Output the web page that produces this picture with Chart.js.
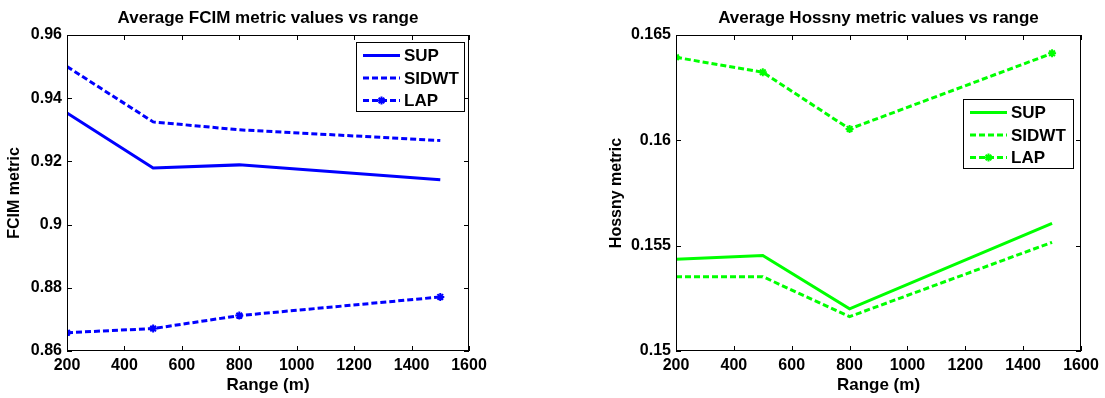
<!DOCTYPE html>
<html><head><meta charset="utf-8">
<script src="https://cdn.jsdelivr.net/npm/chart.js@4.4.1/dist/chart.umd.min.js"></script>
<style>
body{margin:0;background:#fff;width:1105px;height:398px;overflow:hidden;position:relative}
.w{position:absolute;top:0;height:398px}
</style>
</head><body>
<div class="w" style="left:0;width:552px"><canvas id="c1"></canvas></div>
<div class="w" style="left:552px;width:553px"><canvas id="c2"></canvas></div>
<script>
// ---- data ----
const ranges = [200, 500, 800, 1500];
const xTicks = [200, 400, 600, 800, 1000, 1200, 1400, 1600];
const seriesNames = ['SUP', 'SIDWT', 'LAP'];

const fcimSUP   = [0.9353, 0.9179, 0.9189, 0.9142];
const fcimSIDWT = [0.9500, 0.9325, 0.9300, 0.9266];
const fcimLAP   = [0.8658, 0.8671, 0.8712, 0.8771];
const fcimTicks = [0.86, 0.88, 0.9, 0.92, 0.94, 0.96];

const hossnySUP   = [0.15435, 0.15453, 0.15200, 0.15606];
const hossnySIDWT = [0.15353, 0.15353, 0.15163, 0.15516];
const hossnyLAP   = [0.16394, 0.16323, 0.16054, 0.16413];
const hossnyTicks = [0.15, 0.155, 0.16, 0.165];

const FONT = '"Liberation Sans", Arial, Helvetica, sans-serif';
Chart.defaults.font.family = FONT;
Chart.defaults.font.weight = 'bold';
Chart.defaults.color = '#000';

function drawStar(ctx, x, y, r, color) {
  ctx.save();
  ctx.strokeStyle = color; ctx.lineWidth = 2; ctx.setLineDash([]);
  ctx.beginPath();
  for (let i = 0; i < 4; i++) {
    const a = i * Math.PI / 4;
    ctx.moveTo(x - r * Math.cos(a), y - r * Math.sin(a));
    ctx.lineTo(x + r * Math.cos(a), y + r * Math.sin(a));
  }
  ctx.stroke();
  ctx.restore();
}

const framePlugin = {
  id: 'frameLegend',
  afterDraw(chart, args, opts) {
    const ctx = chart.ctx, a = chart.chartArea;
    ctx.save();
    // title
    ctx.fillStyle = '#000';
    ctx.font = 'bold 17px ' + FONT;
    ctx.textAlign = 'center'; ctx.textBaseline = 'middle';
    ctx.fillText(opts.title, (a.left + a.right) / 2, 18);
    // frame
    ctx.strokeStyle = '#000'; ctx.lineWidth = 1; ctx.setLineDash([]);
    ctx.strokeRect(Math.round(a.left) + 0.5, Math.round(a.top) + 0.5,
                   Math.round(a.right - a.left) - 1, Math.round(a.bottom - a.top) - 1);
    const L = 5;
    ctx.beginPath();
    const xs = chart.scales.x, ys = chart.scales.y;
    xs.ticks.forEach(t => {
      const p = Math.round(xs.getPixelForValue(t.value)) + 0.5;
      ctx.moveTo(p, a.bottom); ctx.lineTo(p, a.bottom - L);
      ctx.moveTo(p, a.top); ctx.lineTo(p, a.top + L);
    });
    ys.ticks.forEach(t => {
      const p = Math.round(ys.getPixelForValue(t.value)) + 0.5;
      ctx.moveTo(a.left, p); ctx.lineTo(a.left + L, p);
      ctx.moveTo(a.right, p); ctx.lineTo(a.right - L, p);
    });
    ctx.stroke();
    // legend
    const b = opts.box;
    ctx.fillStyle = '#fff';
    ctx.fillRect(b.x, b.y, b.w, b.h);
    ctx.strokeStyle = '#000'; ctx.lineWidth = 1;
    ctx.strokeRect(b.x + 0.5, b.y + 0.5, b.w, b.h);
    ctx.font = 'bold 17px ' + FONT;
    ctx.textAlign = 'left';
    chart.data.datasets.forEach((ds, i) => {
      const y = b.y + 13.5 + i * 22.5;
      ctx.strokeStyle = ds.borderColor; ctx.lineWidth = 3;
      ctx.setLineDash(ds.borderDash || []);
      ctx.beginPath(); ctx.moveTo(b.x + 7, y); ctx.lineTo(b.x + 44, y); ctx.stroke();
      ctx.setLineDash([]);
      if (ds.pointRadius > 0) drawStar(ctx, b.x + 25.5, y, 4, ds.borderColor);
      ctx.fillStyle = '#000';
      ctx.fillText(ds.label, b.x + 48, y + 1);
    });
    ctx.restore();
  }
};

function makeChart(id, color, sup, sidwt, lap, yTicks, yTitle, title, box, padLeft, yWidth, padRight) {
  const ds = (label, data, dash, marker) => ({
    label, data: ranges.map((x, i) => ({x, y: data[i]})),
    borderColor: color, backgroundColor: color, borderWidth: 3,
    borderDash: dash, pointRadius: marker ? 4 : 0, pointStyle: 'star',
    pointBorderWidth: 2, pointBorderColor: color, tension: 0, fill: false
  });
  return new Chart(document.getElementById(id), {
    type: 'line',
    data: { datasets: [
      ds(seriesNames[0], sup, [], false),
      ds(seriesNames[1], sidwt, [6, 3], false),
      ds(seriesNames[2], lap, [6, 3], true)
    ]},
    options: {
      responsive: true, maintainAspectRatio: false, animation: false,
      layout: { padding: { top: 35, left: padLeft, right: padRight, bottom: 0 } },
      plugins: { legend: { display: false }, tooltip: { enabled: false },
        frameLegend: { title, box } },
      scales: {
        x: {
          type: 'linear', min: xTicks[0], max: xTicks[xTicks.length - 1],
          afterBuildTicks: s => { s.ticks = xTicks.map(v => ({value: v})); },
          afterFit: s => { s.height = 47; },
          grid: { display: false, drawTicks: false }, border: { display: false },
          ticks: { font: { size: 16, weight: 'bold' }, padding: 5, maxRotation: 0, autoSkip: false,
                   callback: v => String(v) },
          title: { display: true, text: 'Range (m)', font: { size: 17, weight: 'bold' }, padding: { top: 0, bottom: 2 } }
        },
        y: {
          type: 'linear', min: yTicks[0], max: yTicks[yTicks.length - 1],
          afterBuildTicks: s => { s.ticks = yTicks.map(v => ({value: v})); },
          afterFit: s => { s.width = yWidth; },
          grid: { display: false, drawTicks: false }, border: { display: false },
          ticks: { font: { size: 16, weight: 'bold' }, padding: 5, autoSkip: false,
                   callback: v => String(v) },
          title: { display: true, text: yTitle, font: { size: 16, weight: 'bold' }, padding: { top: 5, bottom: 0 } }
        }
      }
    },
    plugins: [framePlugin]
  });
}

makeChart('c1', '#0000ff', fcimSUP, fcimSIDWT, fcimLAP, fcimTicks, 'FCIM metric',
  'Average FCIM metric values vs range', {x: 356, y: 42, w: 108, h: 69}, 0, 67, 83);
makeChart('c2', '#00ff00', hossnySUP, hossnySIDWT, hossnyLAP, hossnyTicks, 'Hossny metric',
  'Average Hossny metric values vs range', {x: 411, y: 99, w: 110, h: 69}, 50, 74, 24);
</script>
</body></html>
